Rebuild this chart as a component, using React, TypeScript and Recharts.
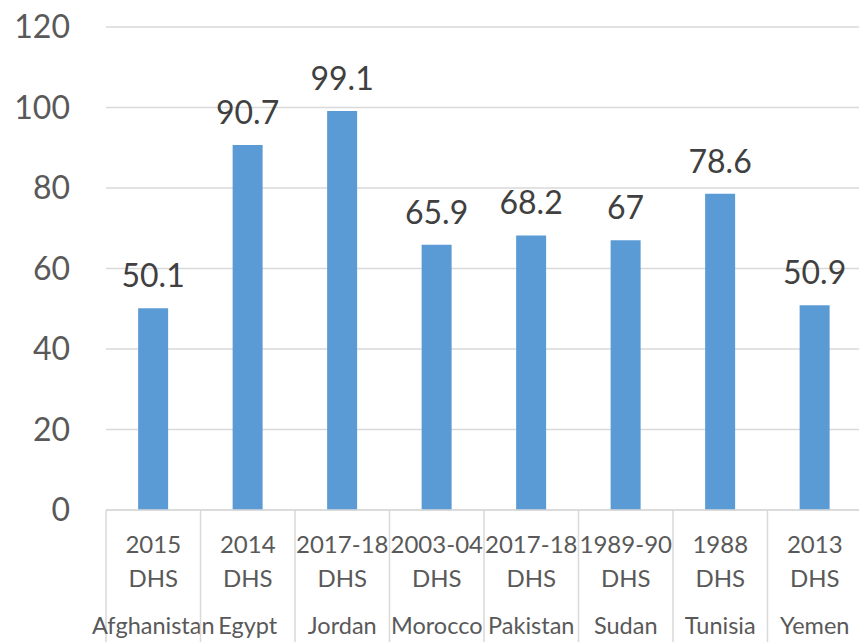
import { BarChart, Bar, XAxis, YAxis, CartesianGrid, LabelList } from "recharts";

const countries = ["Afghanistan", "Egypt", "Jordan", "Morocco", "Pakistan", "Sudan", "Tunisia", "Yemen"];
const surveys = ["2015", "2014", "2017-18", "2003-04", "2017-18", "1989-90", "1988", "2013"];
const values = [50.1, 90.7, 99.1, 65.9, 68.2, 67, 78.6, 50.9];
const yTicks = [0, 20, 40, 60, 80, 100, 120];

const data = countries.map((c, i) => ({ key: `${c}|${surveys[i]}`, country: c, survey: surveys[i], value: values[i] }));

const W = 862;
const H = 642;
const AXIS_W = 106;
const BAND = (W - AXIS_W) / countries.length;
const FONT = "Lato, 'Open Sans', sans-serif";
const GRID = "#D9D9D9";

function CategoryTick(props: any) {
  const { x, y, index } = props;
  const d = data[index];
  const left = x - BAND / 2;
  const right = x + BAND / 2;
  return (
    <g>
      <line x1={left} y1={y} x2={left} y2={H} stroke={GRID} strokeWidth={1.5} />
      {index === data.length - 1 && <line x1={right} y1={y} x2={right} y2={H} stroke={GRID} strokeWidth={1.5} />}
      <text x={x} y={y + 43} textAnchor="middle" fill="#595959" fontSize={24} fontFamily={FONT}>
        {d.survey}
      </text>
      <text x={x} y={y + 77} textAnchor="middle" fill="#595959" fontSize={24} fontFamily={FONT}>
        DHS
      </text>
      <text x={x} y={y + 124} textAnchor="middle" fill="#595959" fontSize={23.5} fontFamily={FONT}>
        {d.country}
      </text>
    </g>
  );
}

export default function App() {
  return (
    <div style={{ position: "absolute", left: 0, top: 0, width: 859, height: H, overflow: "hidden", background: "#fff" }}>
      <BarChart width={W} height={H} data={data} margin={{ top: 27, right: 0, left: 0, bottom: 0 }} barCategoryGap="34%">
        <CartesianGrid vertical={false} stroke={GRID} strokeWidth={1.5} />
        <XAxis
          dataKey="key"
          height={132}
          interval={0}
          tickSize={0}
          tickMargin={0}
          axisLine={{ stroke: GRID, strokeWidth: 1.5 }}
          tickLine={false}
          tick={<CategoryTick />}
        />
        <YAxis
          width={AXIS_W}
          domain={[0, 120]}
          ticks={yTicks}
          axisLine={false}
          tickLine={false}
          tickMargin={30}
          tick={{ fontSize: 32, fill: "#595959", fontFamily: FONT }}
        />
        <Bar dataKey="value" fill="#5B9BD5" isAnimationActive={false}>
          <LabelList dataKey="value" position="top" offset={21} fill="#404040" fontSize={32} fontFamily={FONT} />
        </Bar>
      </BarChart>
    </div>
  );
}
